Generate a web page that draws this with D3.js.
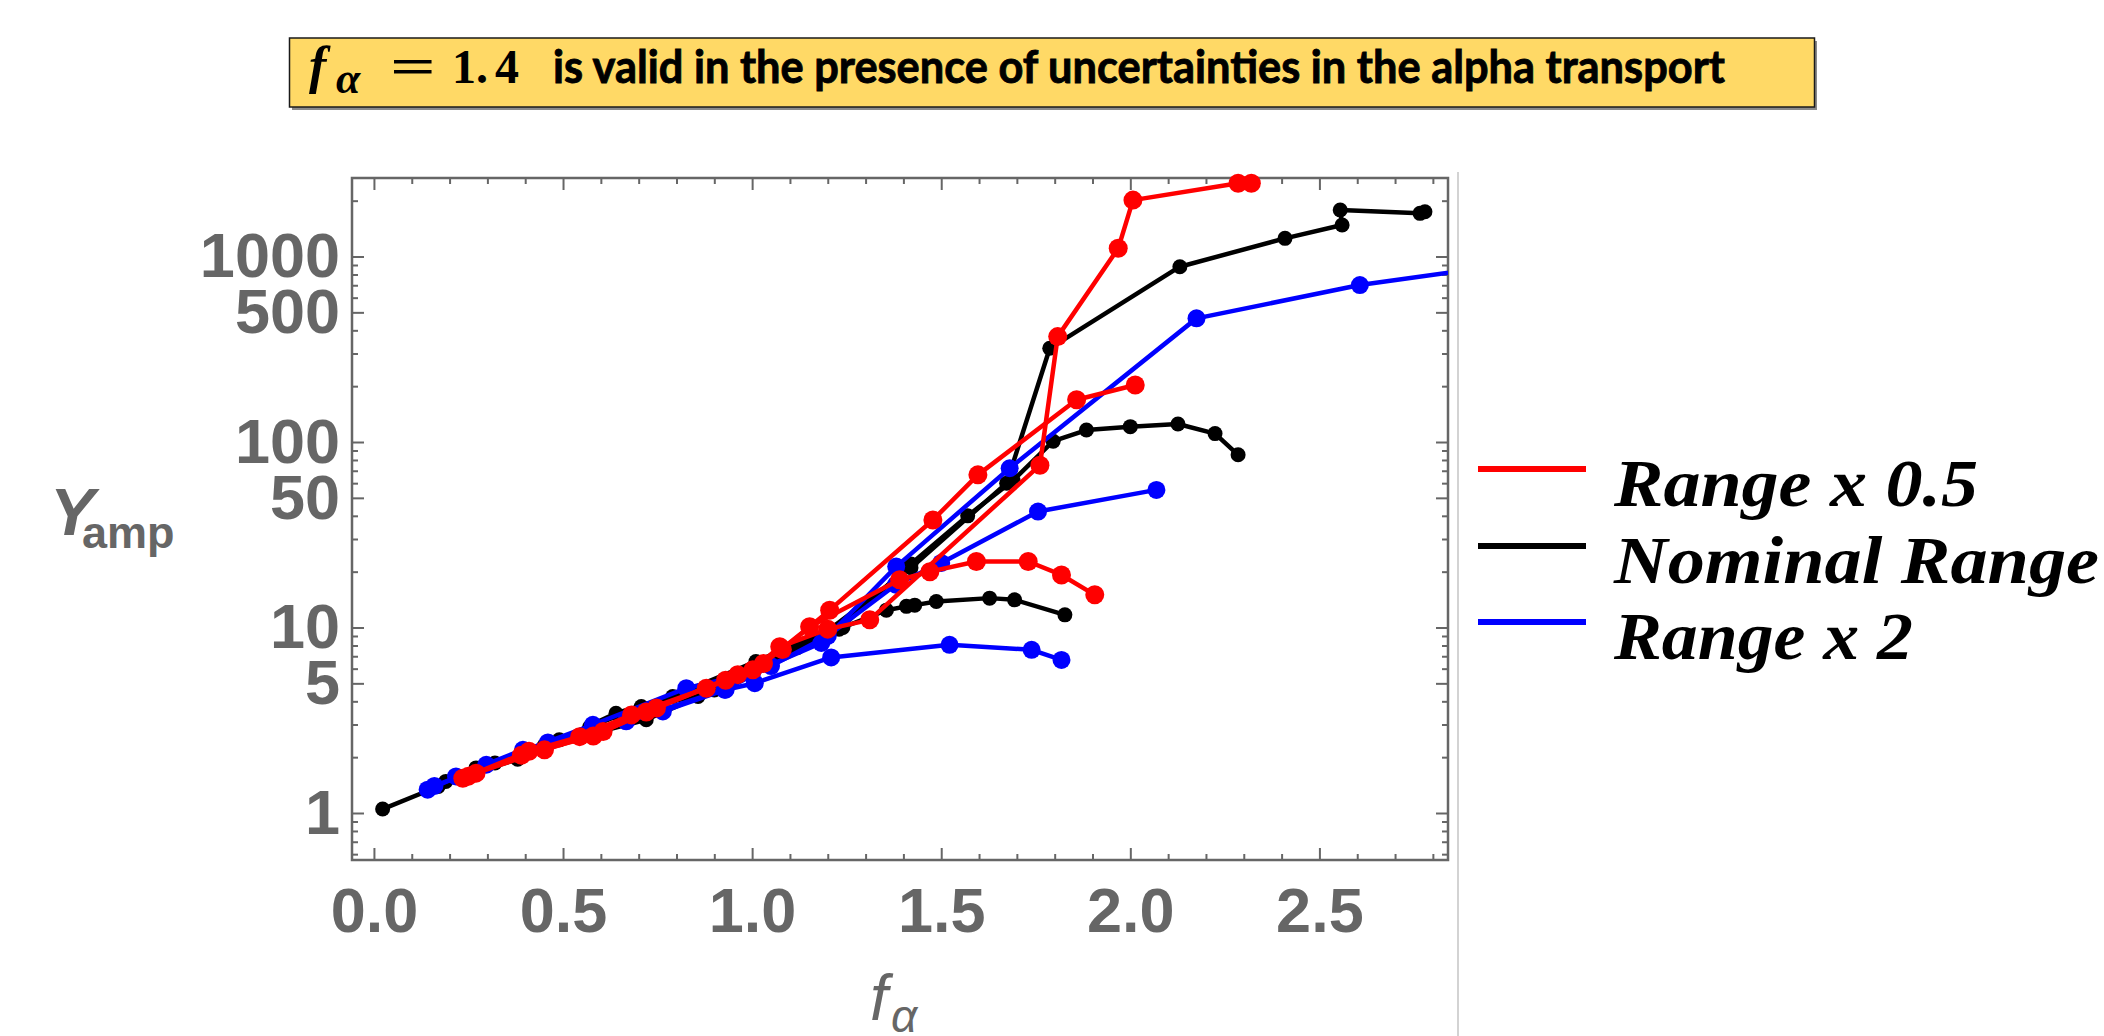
<!DOCTYPE html>
<html>
<head>
<meta charset="utf-8">
<script src="https://cdn.jsdelivr.net/npm/d3@7"></script>
<style>
  html, body { margin: 0; padding: 0; background: #fff; }
  svg { display: block; }
</style>
</head>
<body>
<div id="chart"></div>
<script>
// curves, as [f_alpha, Y_amp] pairs
const redTop = [[0.235,1.54],[0.41,2.15],[0.544,2.58],[0.681,3.38],[0.879,4.71],[1.002,5.91],[1.073,7.87],[1.2,9.8],[1.311,11.0],[1.761,75],[1.808,370],[1.968,1107],[2.007,2014],[2.285,2480],[2.32,2480]];
const redMid = [[0.27,1.64],[0.451,2.19],[0.606,2.75],[0.747,3.68],[0.962,5.57],[1.08,7.6],[1.205,12.4],[1.478,38],[1.597,66.5],[1.858,169],[2.013,203]];
const redLow = [[0.25,1.58],[0.39,2.05],[0.58,2.6],[0.72,3.5],[0.93,5.2],[1.03,6.4],[1.152,10.1],[1.39,18.1],[1.47,20.0],[1.593,22.7],[1.73,22.7],[1.818,19.2],[1.906,15]];

const blackTop = [[0.023,1.05],[0.17,1.39],[0.32,1.86],[0.49,2.48],[0.64,3.45],[0.79,4.25],[1.01,6.56],[1.2,9.6],[1.42,21],[1.673,60],[1.787,320],[2.131,881],[2.409,1253],[2.56,1479],[2.555,1780],[2.766,1709],[2.779,1743]];
const blackMid = [[0.19,1.48],[0.38,1.95],[0.57,2.9],[0.707,3.75],[0.857,4.25],[1.03,6.3],[1.23,9.8],[1.42,22],[1.57,40],[1.69,62],[1.796,101],[1.884,116],[2.0,121],[2.126,125],[2.224,111],[2.285,85.3]];
const blackLow = [[0.27,1.75],[0.45,2.3],[0.72,3.18],[0.9,4.6],[1.0,6.0],[1.12,7.8],[1.24,10],[1.355,12.4],[1.408,13.0],[1.43,13.2],[1.487,13.8],[1.628,14.4],[1.694,14.1],[1.827,11.7]];

const blueTop = [[0.142,1.335],[0.297,1.82],[0.579,2.99],[0.826,4.71],[1.0,5.7],[1.183,8.25],[1.381,21.3],[1.681,72.2],[2.175,464],[2.607,702],[2.95,880]];
const blueMid = [[0.217,1.575],[0.394,2.19],[0.667,3.12],[0.927,4.62],[1.05,6.2],[1.2,9.0],[1.38,17],[1.5,22.3],[1.756,42.2],[2.069,55.2]];
const blueLow = [[0.16,1.4],[0.46,2.4],[0.764,3.53],[0.93,4.62],[1.007,5.01],[1.209,6.9],[1.522,8.07],[1.739,7.58],[1.818,6.69]];

const seriesNames = ["Range x 0.5", "Nominal Range", "Range x 2"];

const xMajor = [0, 0.5, 1, 1.5, 2, 2.5];
const xMinor = [0.1,0.2,0.3,0.4,0.6,0.7,0.8,0.9,1.1,1.2,1.3,1.4,1.6,1.7,1.8,1.9,2.1,2.2,2.3,2.4,2.6,2.7,2.8];
const yMajor = [1, 5, 10, 50, 100, 500, 1000];
const yMinor = [0.6,0.7,0.8,0.9,2,3,4,6,7,8,9,20,30,40,60,70,80,90,200,300,400,600,700,800,900,2000];

const W = 2104, H = 1036;
const FRAME = { LEFT: 352, RIGHT: 1448, TOP: 178, BOTTOM: 860 };
const GRAY = "#666";
const COLORS = { red: "#ff0000", black: "#000000", blue: "#0000ff" };

const svg = d3.select("#chart").append("svg")
  .attr("width", W)
  .attr("height", H);

// ---- title box
svg.append("rect")
  .attr("x", 292).attr("y", 41).attr("width", 1525).attr("height", 69)
  .attr("fill", "#8a8a8a");
svg.append("rect")
  .attr("x", 289.5).attr("y", 38).attr("width", 1525).attr("height", 69)
  .attr("fill", "#ffd966")
  .attr("stroke", "#1a1a1a")
  .attr("stroke-width", 1.5);

svg.append("text")
  .attr("x", 309).attr("y", 83)
  .attr("font-family", "Liberation Serif, serif")
  .attr("font-style", "italic").attr("font-weight", "bold")
  .attr("font-size", 52)
  .text("f");
svg.append("text")
  .attr("x", 336).attr("y", 93)
  .attr("font-family", "Liberation Serif, serif")
  .attr("font-style", "italic").attr("font-weight", "bold")
  .attr("font-size", 44)
  .text("α");
svg.append("text")
  .attr("x", 390).attr("y", 83)
  .attr("font-family", "Liberation Serif, serif")
  .attr("font-weight", "bold")
  .attr("font-size", 50)
  .attr("textLength", 46).attr("lengthAdjust", "spacingAndGlyphs")
  .text("=");
const numTitle = svg.append("text")
  .attr("y", 83)
  .attr("font-family", "Liberation Serif, serif")
  .attr("font-weight", "bold")
  .attr("font-size", 48);
numTitle.append("tspan").attr("x", 452).text("1.");
numTitle.append("tspan").attr("x", 495).text("4");
svg.append("text")
  .attr("x", 553).attr("y", 83)
  .attr("font-family", "Lato, Open Sans, sans-serif")
  .attr("font-weight", "bold")
  .attr("font-size", 46)
  .attr("stroke", "#000")
  .attr("stroke-width", 0.9)
  .attr("textLength", 1172).attr("lengthAdjust", "spacingAndGlyphs")
  .text("is valid in the presence of uncertainties in the alpha transport");

// ---- scales
const x = d3.scaleLinear()
  .domain([-0.058, 2.84])
  .range([FRAME.LEFT, FRAME.RIGHT]);

const y = d3.scaleLog()
  .domain([0.558, 2650])
  .range([FRAME.BOTTOM, FRAME.TOP]);

// ---- axes (ticks point inward, on all four sides)
function styleAxis(g) {
  g.select(".domain").remove();
  g.selectAll("line").attr("stroke", GRAY).attr("stroke-width", 2);
  g.selectAll("text")
    .attr("fill", GRAY)
    .attr("font-family", "Liberation Sans, Arial, sans-serif")
    .attr("font-weight", "bold")
    .attr("font-size", 63);
}

const axisBottomG = svg.append("g").attr("transform", `translate(0, ${FRAME.BOTTOM})`);
axisBottomG.append("g").call(d3.axisBottom(x).tickValues(xMajor).tickSize(-12).tickSizeOuter(0)
  .tickPadding(27).tickFormat(d3.format(".1f"))).call(styleAxis);
axisBottomG.append("g").call(d3.axisBottom(x).tickValues(xMinor).tickSize(-6).tickSizeOuter(0)
  .tickFormat("")).call(styleAxis);

const axisTopG = svg.append("g").attr("transform", `translate(0, ${FRAME.TOP})`);
axisTopG.append("g").call(d3.axisTop(x).tickValues(xMajor).tickSize(-12).tickSizeOuter(0).tickFormat("")).call(styleAxis);
axisTopG.append("g").call(d3.axisTop(x).tickValues(xMinor).tickSize(-6).tickSizeOuter(0).tickFormat("")).call(styleAxis);

const axisLeftG = svg.append("g").attr("transform", `translate(${FRAME.LEFT}, 0)`);
axisLeftG.append("g").call(d3.axisLeft(y).tickValues(yMajor).tickSize(-12).tickSizeOuter(0)
  .tickPadding(12).tickFormat(d3.format("d"))).call(styleAxis);
axisLeftG.append("g").call(d3.axisLeft(y).tickValues(yMinor).tickSize(-6).tickSizeOuter(0).tickFormat("")).call(styleAxis);

const axisRightG = svg.append("g").attr("transform", `translate(${FRAME.RIGHT}, 0)`);
axisRightG.append("g").call(d3.axisRight(y).tickValues(yMajor).tickSize(-12).tickSizeOuter(0).tickFormat("")).call(styleAxis);
axisRightG.append("g").call(d3.axisRight(y).tickValues(yMinor).tickSize(-6).tickSizeOuter(0).tickFormat("")).call(styleAxis);

svg.append("rect")
  .attr("x", FRAME.LEFT).attr("y", FRAME.TOP)
  .attr("width", FRAME.RIGHT - FRAME.LEFT)
  .attr("height", FRAME.BOTTOM - FRAME.TOP)
  .attr("fill", "none")
  .attr("stroke", GRAY)
  .attr("stroke-width", 2.5);

// light separator line to the right of the plot
svg.append("line")
  .attr("x1", 1458).attr("x2", 1458)
  .attr("y1", 172).attr("y2", H)
  .attr("stroke", "#c4c4c4")
  .attr("stroke-width", 1.5);

// ---- axis labels
svg.append("text")
  .attr("x", 50).attr("y", 535)
  .attr("fill", GRAY)
  .attr("font-family", "Liberation Sans, Arial, sans-serif")
  .attr("font-style", "italic").attr("font-weight", "bold")
  .attr("font-size", 67)
  .text("Y");
svg.append("text")
  .attr("x", 82).attr("y", 548)
  .attr("fill", GRAY)
  .attr("font-family", "Liberation Sans, Arial, sans-serif")
  .attr("font-weight", "bold")
  .attr("font-size", 45)
  .text("amp");

svg.append("text")
  .attr("x", 870).attr("y", 1020)
  .attr("fill", GRAY)
  .attr("font-family", "Liberation Sans, Arial, sans-serif")
  .attr("font-style", "italic")
  .attr("font-size", 64)
  .text("f");
svg.append("text")
  .attr("x", 891).attr("y", 1032)
  .attr("fill", GRAY)
  .attr("font-family", "Liberation Sans, Arial, sans-serif")
  .attr("font-style", "italic")
  .attr("font-size", 46)
  .text("α");

// ---- data
svg.append("clipPath").attr("id", "plot-clip")
  .append("rect")
  .attr("x", FRAME.LEFT).attr("y", FRAME.TOP - 6)
  .attr("width", FRAME.RIGHT - FRAME.LEFT)
  .attr("height", FRAME.BOTTOM - FRAME.TOP + 6);

const plot = svg.append("g").attr("clip-path", "url(#plot-clip)");

const line = d3.line()
  .x(d => x(d[0]))
  .y(d => y(d[1]));

const curves = [
  { data: blackTop, color: COLORS.black, r: 7.5 },
  { data: blackMid, color: COLORS.black, r: 7.5 },
  { data: blackLow, color: COLORS.black, r: 7.5 },
  { data: blueTop, color: COLORS.blue, r: 9 },
  { data: blueMid, color: COLORS.blue, r: 9 },
  { data: blueLow, color: COLORS.blue, r: 9 },
  { data: redTop, color: COLORS.red, r: 9.5 },
  { data: redMid, color: COLORS.red, r: 9.5 },
  { data: redLow, color: COLORS.red, r: 9.5 }
];

curves.forEach(c => {
  const g = plot.append("g");
  g.append("path")
    .datum(c.data)
    .attr("d", line)
    .attr("fill", "none")
    .attr("stroke", c.color)
    .attr("stroke-width", 4.5)
    .attr("stroke-linejoin", "round");
  g.selectAll("circle")
    .data(c.data)
    .enter()
    .append("circle")
    .attr("cx", d => x(d[0]))
    .attr("cy", d => y(d[1]))
    .attr("r", c.r)
    .attr("fill", c.color);
});

// ---- legend
const legendColors = [COLORS.red, COLORS.black, COLORS.blue];
const legendLineY = [469, 546, 622];
const legendWidths = [364, 485, 299];

const legend = svg.append("g");
seriesNames.forEach((name, i) => {
  legend.append("line")
    .attr("x1", 1478).attr("x2", 1586)
    .attr("y1", legendLineY[i]).attr("y2", legendLineY[i])
    .attr("stroke", legendColors[i])
    .attr("stroke-width", 6);
  legend.append("text")
    .attr("x", 1614)
    .attr("y", legendLineY[i] + 37)
    .attr("font-family", "Liberation Serif, serif")
    .attr("font-style", "italic").attr("font-weight", "bold")
    .attr("font-size", 68)
    .attr("textLength", legendWidths[i]).attr("lengthAdjust", "spacingAndGlyphs")
    .text(name);
});
</script>
</body>
</html>
